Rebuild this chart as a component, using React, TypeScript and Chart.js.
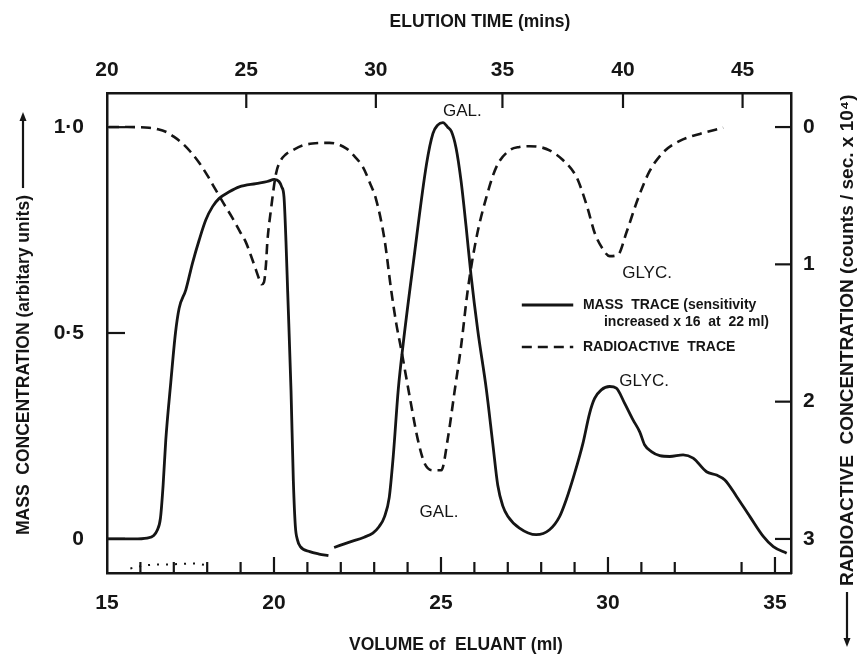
import React, { useEffect, useRef } from 'react';
import { Chart, registerables } from 'chart.js';

Chart.register(...registerables);

// ---------- data ----------
// Mass trace, first segment (volume in ml, mass concentration in arbitrary units)
const massVolumeA = [15.0, 15.8, 16.2, 16.4, 16.5, 16.6, 16.68, 16.76, 16.91, 17.05, 17.16, 17.36, 17.56, 17.76, 17.96, 18.16, 18.36, 18.66, 18.96, 19.46, 19.8, 20.01, 20.15, 20.23, 20.3, 20.36, 20.41, 20.51, 20.58, 20.64, 20.7, 20.79, 21.07, 21.35, 21.63];
const massValueA = [0, 0, 0.002, 0.008, 0.02, 0.05, 0.13, 0.24, 0.38, 0.5, 0.56, 0.605, 0.67, 0.726, 0.775, 0.807, 0.827, 0.843, 0.855, 0.863, 0.868, 0.873, 0.868, 0.855, 0.83, 0.72, 0.6, 0.36, 0.14, 0.03, -0.002, -0.019, -0.031, -0.037, -0.041];

// Mass trace, second segment (after sensitivity change at 22 ml)
const massVolumeB = [21.8, 22.26, 22.7, 22.96, 23.15, 23.31, 23.45, 23.57, 23.72, 23.87, 24.17, 24.57, 24.76, 24.9, 25.06, 25.2, 25.31, 25.45, 25.6, 25.75, 25.9, 26.1, 26.36, 26.55, 26.7, 26.85, 27.0, 27.35, 27.85, 28.25, 28.55, 28.75, 29.0, 29.25, 29.45, 29.6, 29.8, 30.05, 30.25, 30.5, 30.75, 30.95, 31.1, 31.3, 31.55, 31.85, 32.25, 32.55, 32.95, 33.25, 33.5, 33.85, 34.25, 34.65, 34.95, 35.35];
const massValueB = [-0.021, -0.008, 0.004, 0.014, 0.03, 0.054, 0.1, 0.2, 0.362, 0.475, 0.669, 0.912, 0.985, 1.005, 1.011, 1.0, 0.99, 0.95, 0.87, 0.76, 0.64, 0.507, 0.362, 0.232, 0.13, 0.08, 0.055, 0.026, 0.01, 0.022, 0.054, 0.095, 0.159, 0.232, 0.305, 0.341, 0.362, 0.37, 0.366, 0.329, 0.289, 0.26, 0.228, 0.212, 0.202, 0.2, 0.204, 0.196, 0.163, 0.155, 0.143, 0.103, 0.054, 0.006, -0.019, -0.035];

// Faint dotted trace near the baseline
const dottedVolume = [15.7, 16.2, 16.9, 17.6, 18.1];
const dottedValue = [-0.072, -0.064, -0.062, -0.06, -0.066];

// Radioactive trace (counts/sec x 10^4, right axis, reversed)
const radioVolume = [15.06, 15.6, 16.26, 16.5, 16.76, 17.0, 17.25, 17.5, 17.76, 18.0, 18.26, 18.5, 18.75, 19.0, 19.16, 19.3, 19.46, 19.56, 19.63, 19.7, 19.76, 19.8, 19.91, 20.06, 20.21, 20.35, 20.55, 20.85, 21.15, 21.66, 22.16, 22.4, 22.66, 22.86, 23.06, 23.31, 23.51, 23.66, 23.81, 24.06, 24.31, 24.51, 24.76, 25.01, 25.21, 25.41, 25.61, 25.8, 26.05, 26.36, 26.66, 27.05, 27.35, 27.65, 27.95, 28.25, 28.65, 29.05, 29.2, 29.4, 29.6, 29.85, 30.05, 30.3, 30.55, 30.9, 31.25, 31.65, 32.15, 32.75, 33.45];
const radioValue = [0, 0, 0.005, 0.015, 0.034, 0.07, 0.117, 0.18, 0.26, 0.35, 0.46, 0.56, 0.66, 0.77, 0.84, 0.93, 1.04, 1.11, 1.145, 1.13, 1.0, 0.84, 0.6, 0.34, 0.24, 0.2, 0.17, 0.135, 0.12, 0.115, 0.155, 0.21, 0.29, 0.4, 0.53, 0.82, 1.19, 1.43, 1.62, 1.96, 2.28, 2.45, 2.5, 2.5, 2.26, 1.92, 1.58, 1.19, 0.82, 0.51, 0.29, 0.17, 0.145, 0.14, 0.145, 0.17, 0.24, 0.36, 0.45, 0.6, 0.77, 0.89, 0.94, 0.93, 0.77, 0.52, 0.32, 0.185, 0.1, 0.05, 0.005];

// Tick labels
const volumeLabels = [15, 20, 25, 30, 35];
const volumeMinorTicks = [16, 17, 18, 19, 20, 21, 22, 23, 24, 25, 26, 27, 28, 29, 30, 31, 32, 34, 35];
const elutionTimes = [20, 25, 30, 35, 40, 45];
const elutionTickVolumes = [15.0, 19.17, 23.05, 26.84, 30.45, 34.03]; // volume at which each elution time falls
const massTicks = [0, 0.5, 1.0];
const radioTicks = [0, 1, 2, 3];

// Annotations (anchored in data units)
const peakLabels = [
  { text: 'GAL.', ml: 25.64, mass: 1.039 },
  { text: 'GAL.', ml: 24.94, mass: 0.065 },
  { text: 'GLYC.', ml: 31.17, mass: 0.646 },
  { text: 'GLYC.', ml: 31.08, mass: 0.383 },
];

const INK = '#151515';
const FONT = "'Liberation Sans', Arial, Helvetica, sans-serif";

const zip = (xs: number[], ys: number[]) => {
  const n = Math.min(xs.length, ys.length);
  const out: { x: number; y: number }[] = [];
  for (let i = 0; i < n; i++) out.push({ x: xs[i], y: ys[i] });
  return out;
};

const fmtMass = (v: number) => (v === 0 ? '0' : v.toFixed(1).replace('.', '\u00B7'));

const decorPlugin = {
  id: 'decor',
  afterDatasetsDraw(chart: any) {
    const { ctx, chartArea: a, scales } = chart;
    const sx = scales.x;
    const sx2 = scales.x2;
    const sy = scales.y;
    const sy2 = scales.y2;
    ctx.save();
    ctx.strokeStyle = INK;
    ctx.fillStyle = INK;
    ctx.lineWidth = 2.2;
    ctx.setLineDash([]);
    const seg = (x1: number, y1: number, x2: number, y2: number) => {
      ctx.beginPath();
      ctx.moveTo(x1, y1);
      ctx.lineTo(x2, y2);
      ctx.stroke();
    };
    // inward tick marks
    volumeMinorTicks.forEach((v) => {
      const px = sx.getPixelForValue(v);
      seg(px, a.bottom, px, a.bottom - (v % 5 === 0 ? 16 : 11));
    });
    elutionTickVolumes.slice(1).forEach((v) => {
      const px = sx2.getPixelForValue(v);
      seg(px, a.top, px, a.top + 15);
    });
    massTicks.forEach((v) => {
      const py = sy.getPixelForValue(v);
      seg(a.left, py, a.left + 18, py);
    });
    radioTicks.forEach((v) => {
      const py = sy2.getPixelForValue(v);
      seg(a.right, py, a.right - 16, py);
    });

    // peak labels
    ctx.font = `17px ${FONT}`;
    ctx.textAlign = 'center';
    ctx.textBaseline = 'middle';
    peakLabels.forEach((l) => {
      ctx.fillText(l.text, sx.getPixelForValue(l.ml), sy.getPixelForValue(l.mass));
    });

    // legend
    const lx1 = sx.getPixelForValue(27.42);
    const lx2 = sx.getPixelForValue(28.96);
    const tx = sx.getPixelForValue(29.25);
    const yMass = sy.getPixelForValue(0.568);
    const yMass2 = sy.getPixelForValue(0.527);
    const yRadio = sy.getPixelForValue(0.466);
    ctx.lineWidth = 2.8;
    seg(lx1, yMass, lx2, yMass);
    ctx.lineWidth = 2.6;
    ctx.setLineDash([10, 6]);
    seg(lx1, yRadio, lx2, yRadio);
    ctx.setLineDash([]);
    ctx.font = `bold 14px ${FONT}`;
    ctx.textAlign = 'left';
    ctx.fillText('MASS  TRACE (sensitivity', tx, yMass);
    ctx.fillText('increased x 16  at  22 ml)', sx.getPixelForValue(29.88), yMass2);
    ctx.fillText('RADIOACTIVE  TRACE', tx, yRadio);

    // axis titles
    ctx.font = `bold 17.5px ${FONT}`;
    ctx.textAlign = 'center';
    ctx.fillText('ELUTION TIME (mins)', 480, 22);
    ctx.fillText('VOLUME of  ELUANT (ml)', 456, 645);

    // left title with arrow (reads upward)
    const leftText = 'MASS  CONCENTRATION (arbitary units)';
    const leftX = 23;
    const leftStart = 535;
    ctx.save();
    ctx.translate(leftX, leftStart);
    ctx.rotate(-Math.PI / 2);
    ctx.textAlign = 'left';
    ctx.fillText(leftText, 0, 1);
    ctx.restore();
    const lw = ctx.measureText(leftText).width;
    ctx.lineWidth = 2.2;
    const arrowTop = a.top + 19;
    seg(leftX, leftStart - lw - 7, leftX, arrowTop + 6);
    ctx.beginPath();
    ctx.moveTo(leftX, arrowTop);
    ctx.lineTo(leftX - 3.5, arrowTop + 9);
    ctx.lineTo(leftX + 3.5, arrowTop + 9);
    ctx.closePath();
    ctx.fill();

    // right title with arrow pointing down
    ctx.font = `bold 19px ${FONT}`;
    const rightText = 'RADIOACTIVE  CONCENTRATION (counts / sec. x 10\u2074)';
    const rightX = 847;
    const rightStart = 586;
    ctx.save();
    ctx.translate(rightX, rightStart);
    ctx.rotate(-Math.PI / 2);
    ctx.textAlign = 'left';
    ctx.fillText(rightText, 0, 1);
    ctx.restore();
    const arrowBottom = 647;
    seg(rightX, rightStart + 6, rightX, arrowBottom - 6);
    ctx.beginPath();
    ctx.moveTo(rightX, arrowBottom);
    ctx.lineTo(rightX - 3.5, arrowBottom - 9);
    ctx.lineTo(rightX + 3.5, arrowBottom - 9);
    ctx.closePath();
    ctx.fill();

    ctx.restore();
  },
};

const tickFont = { family: FONT, size: 21, weight: 'bold' as const, lineHeight: 1 };
const border = { display: true, width: 2.5, color: INK };
const noGrid = { display: false, drawTicks: false, drawOnChartArea: false };

export default function App() {
  const ref = useRef<HTMLCanvasElement>(null);

  useEffect(() => {
    const canvas = ref.current;
    if (!canvas) return;
    const lineBase = {
      borderColor: INK,
      pointRadius: 0,
      fill: false,
      cubicInterpolationMode: 'monotone' as const,
      xAxisID: 'x',
    };
    const chart = new Chart(canvas, {
      type: 'line',
      data: {
        datasets: [
          { ...lineBase, label: 'MASS TRACE', data: zip(massVolumeA, massValueA), yAxisID: 'y', borderWidth: 2.8 },
          { ...lineBase, label: 'MASS TRACE (x16)', data: zip(massVolumeB, massValueB), yAxisID: 'y', borderWidth: 2.8 },
          { ...lineBase, label: 'baseline', data: zip(dottedVolume, dottedValue), yAxisID: 'y', borderWidth: 2, borderDash: [2, 7] },
          { ...lineBase, label: 'RADIOACTIVE TRACE', data: zip(radioVolume, radioValue), yAxisID: 'y2', borderWidth: 2.6, borderDash: [10, 6] },
        ],
      },
      options: {
        responsive: false,
        animation: false,
        events: [],
        layout: { padding: 0 },
        plugins: {
          legend: { display: false },
          tooltip: { enabled: false },
          title: { display: false },
        },
        scales: {
          x: {
            type: 'linear',
            position: 'bottom',
            min: 15,
            max: 35.48,
            grid: noGrid,
            border,
            ticks: { font: tickFont, color: INK, padding: 20, maxRotation: 0, autoSkip: false, callback: (v: any) => String(v) },
            afterBuildTicks: (s: any) => {
              s.ticks = volumeLabels.map((v) => ({ value: v }));
            },
            afterFit: (s: any) => {
              s.height = 86;
            },
          },
          x2: {
            type: 'linear',
            position: 'top',
            display: true,
            min: 15,
            max: 35.48,
            grid: noGrid,
            border,
            ticks: { font: tickFont, color: INK, padding: 12, maxRotation: 0, autoSkip: false, callback: (_v: any, i: number) => String(elutionTimes[i]) },
            afterBuildTicks: (s: any) => {
              s.ticks = elutionTickVolumes.map((v) => ({ value: v }));
            },
            afterFit: (s: any) => {
              s.height = 93;
            },
          },
          y: {
            type: 'linear',
            position: 'left',
            min: -0.083,
            max: 1.083,
            grid: noGrid,
            border,
            ticks: { font: tickFont, color: INK, padding: 23, autoSkip: false, callback: (v: any) => fmtMass(Number(v)) },
            afterBuildTicks: (s: any) => {
              s.ticks = massTicks.map((v) => ({ value: v }));
            },
            afterFit: (s: any) => {
              s.width = 107;
            },
          },
          y2: {
            type: 'linear',
            position: 'right',
            display: true,
            reverse: true,
            min: -0.248,
            max: 3.248,
            grid: noGrid,
            border,
            ticks: { font: tickFont, color: INK, padding: 12, autoSkip: false, callback: (v: any) => String(v) },
            afterBuildTicks: (s: any) => {
              s.ticks = radioTicks.map((v) => ({ value: v }));
            },
            afterFit: (s: any) => {
              s.width = 70;
            },
          },
        },
      },
      plugins: [decorPlugin],
    } as any);
    return () => chart.destroy();
  }, []);

  return (
    <div style={{ position: 'absolute', left: 0, top: 0, width: 861, height: 659, background: '#ffffff' }}>
      <canvas ref={ref} width={861} height={659} style={{ display: 'block', width: 861, height: 659 }} />
    </div>
  );
}
